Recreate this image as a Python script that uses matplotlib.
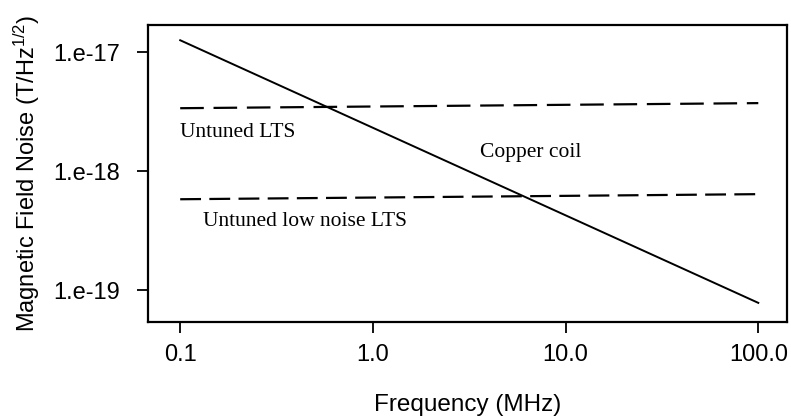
import matplotlib
matplotlib.use("Agg")
import matplotlib.pyplot as plt

# values (MHz, T/Hz^1/2)
freq = [0.1, 100.0]
copper_coil = [1.26e-17, 7.8e-20]
untuned_lts = [3.38e-18, 3.73e-18]
untuned_low_noise_lts = [5.8e-19, 6.4e-19]

x_ticks = [0.1, 1.0, 10.0, 100.0]
x_tick_labels = ["0.1", "1.0", "10.0", "100.0"]
y_ticks = [1e-19, 1e-18, 1e-17]
y_tick_labels = ["1.e-19", "1.e-18", "1.e-17"]


def main():
    plt.rcParams["font.family"] = ["Liberation Sans", "DejaVu Sans"]
    plt.rcParams["mathtext.default"] = "regular"
    plt.rcParams["lines.scale_dashes"] = False

    fig = plt.figure(figsize=(7.91, 4.18), dpi=100)
    ax = fig.add_axes([0.187, 0.230, 0.808, 0.710])

    ax.plot(freq, copper_coil, color="black", lw=1.4)
    ax.plot(freq, untuned_lts, color="black", lw=1.6, dashes=(17, 7))
    ax.plot(freq, untuned_low_noise_lts, color="black", lw=1.6, dashes=(15, 6))

    ax.set_xscale("log")
    ax.set_yscale("log")
    ax.set_xlim(0.068, 141)
    ax.set_ylim(5.4e-20, 1.69e-17)

    ax.set_xticks(x_ticks)
    ax.set_xticklabels(x_tick_labels)
    ax.set_yticks(y_ticks)
    ax.set_yticklabels(y_tick_labels)
    ax.minorticks_off()
    ax.tick_params(axis="both", length=8, width=1.3, labelsize=17)
    ax.tick_params(axis="y", pad=12)
    ax.tick_params(axis="x", pad=8)
    for sp in ax.spines.values():
        sp.set_linewidth(1.6)

    serif = ["Liberation Serif", "DejaVu Serif"]
    ax.text(0.1, 2.1e-18, "Untuned LTS", family=serif, fontsize=15.5, va="center")
    ax.text(3.6, 1.44e-18, "Copper coil", family=serif, fontsize=15.5, va="center")
    ax.text(0.131, 3.8e-19, "Untuned low noise LTS", family=serif, fontsize=15.5, va="center")

    ax.set_xlabel("Frequency (MHz)", fontsize=17.5, labelpad=20)
    ax.set_ylabel("Magnetic Field Noise (T/Hz$^{1/2}$)", fontsize=17, labelpad=8)

    fig.savefig("out.png", dpi=100)


if __name__ == "__main__":
    main()
